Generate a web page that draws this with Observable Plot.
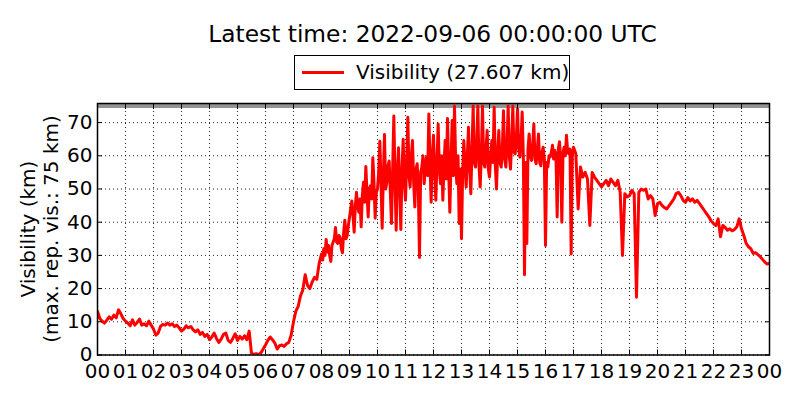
<!DOCTYPE html>
<html>
<head>
<meta charset="utf-8">
<script src="https://cdn.jsdelivr.net/npm/d3@7"></script>
<script src="https://cdn.jsdelivr.net/npm/@observablehq/plot@0.6"></script>
<style>
  html, body { margin: 0; padding: 0; background: #fff; }
  #wrap { position: relative; width: 800px; height: 400px; font-family: "DejaVu Sans", sans-serif; color: #000; overflow: hidden; }
  #title { position: absolute; left: 0; top: 22px; width: 865px; text-align: center; font-size: 23.3px; line-height: 23.3px; white-space: nowrap; }
  #legend { position: absolute; left: 294px; top: 55px; width: 274px; height: 33px; border: 1px solid #000; background: #fff; box-sizing: content-box; }
  #legend .swatch { position: absolute; left: 7px; top: 14.5px; width: 42px; height: 3px; background: #ff0000; }
  #legend .label { position: absolute; left: 61px; top: 5.5px; font-size: 20px; line-height: 20px; white-space: nowrap; }
  #ylabel { position: absolute; left: 38.75px; top: 228.5px; transform: translate(-50%, -50%) rotate(-90deg); font-size: 20px; line-height: 22.5px; text-align: center; white-space: nowrap; }
  #chart { position: absolute; left: 0; top: 0; }
</style>
</head>
<body>
<div id="wrap">
  <div id="chart"></div>
  <div id="title"></div>
  <div id="legend"><div class="swatch"></div><div class="label"></div></div>
  <div id="ylabel"></div>
</div>
<script>
// ---- data ----
const titleText = "Latest time: 2022-09-06 00:00:00 UTC";
const seriesName = "Visibility";
const latestValue = "27.607";
const yLabelLines = ["Visibility (km)", "(max. rep. vis.: 75 km)"];
const maxRepVis = 75;

// visibility (km) 00:00-07:55, one value every 5 minutes
const visNightStart = 0, visNightStep = 5;
const visNight = [
  13.2, 11.0, 10.2, 9.6, 10.5, 11.5, 10.8, 12.0, 11.2, 13.6, 12.4, 11.0,
  10.2, 9.6, 8.8, 10.6, 9.0, 9.8, 10.8, 9.0, 9.4, 8.8, 10.2, 9.0,
  7.8, 6.0, 6.6, 8.6, 9.2, 9.0, 9.6, 9.0, 9.4, 8.6, 9.0, 8.2,
  7.2, 7.8, 8.8, 8.2, 8.6, 7.6, 7.0, 7.6, 6.2, 6.8, 5.6, 6.2,
  4.6, 5.4, 6.6, 5.0, 3.8, 4.8, 6.2, 6.6, 4.4, 3.8, 5.0, 6.4,
  4.4, 5.6, 4.8, 5.8, 4.6, 7.2, 0.5, 0.2, 0.4, 0.1, 0.6, 1.8,
  3.0, 4.4, 5.4, 4.6, 3.6, 1.8, 2.8, 3.0, 2.6, 3.4, 3.8, 6.0,
  10.0, 13.2, 14.6, 17.8, 19.6, 24.2, 21.0, 20.0, 22.0, 23.4, 22.8, 27.6
];

// visibility (km) 08:00-16:57.5, one value every 2.5 minutes
const visDayStart = 480, visDayStep = 2.5;
const visDay = [
  30.4, 28.6, 32.0, 30.0, 34.8, 31.0, 33.0, 30.0, 28.2, 33.0, 34.0, 35.0,
  38.4, 34.0, 33.6, 36.0, 35.4, 32.0, 30.8, 37.0, 40.6, 35.0, 36.0, 39.0,
  41.4, 44.0, 46.4, 42.0, 37.0, 45.0, 49.0, 44.6, 43.0, 47.0, 38.6, 48.0,
  52.0, 46.0, 56.8, 49.0, 41.6, 50.0, 51.0, 47.0, 59.4, 52.0, 41.2, 49.0,
  50.0, 55.0, 64.4, 52.0, 38.2, 54.0, 66.4, 50.0, 52.0, 57.0, 58.4, 49.0,
  39.6, 56.0, 72.0, 53.0, 37.6, 55.0, 62.4, 50.0, 37.8, 56.0, 65.0, 52.0,
  46.6, 58.0, 71.6, 54.0, 50.6, 60.0, 64.6, 52.0, 44.6, 56.0, 57.6, 50.0,
  29.4, 55.0, 56.6, 60.0, 51.6, 57.0, 59.6, 54.0, 72.6, 58.0, 46.0, 60.0,
  66.2, 55.0, 46.6, 58.0, 69.6, 56.0, 51.6, 60.0, 46.6, 57.0, 64.6, 53.0,
  71.2, 56.0, 43.0, 58.0, 70.6, 54.0, 75.0, 58.0, 51.6, 60.0, 39.6, 56.0,
  35.0, 55.0, 64.6, 57.0, 50.6, 60.0, 68.6, 56.0, 48.6, 62.0, 75.0, 58.0,
  56.6, 63.0, 75.0, 57.0, 50.6, 60.0, 75.0, 58.0, 56.6, 62.0, 67.6, 56.0,
  53.6, 60.0, 64.6, 58.0, 74.6, 57.0, 50.0, 61.0, 67.6, 58.0, 56.6, 62.0,
  73.6, 59.0, 56.6, 63.0, 75.0, 60.0, 56.0, 64.0, 75.0, 61.0, 60.6, 65.0,
  74.2, 62.0, 59.6, 64.0, 73.2, 60.0, 24.2, 58.0, 33.6, 62.0, 66.6, 60.0,
  58.6, 63.0, 69.6, 59.0, 57.6, 62.0, 66.6, 58.0, 57.0, 61.0, 62.6, 59.0,
  33.0, 58.0, 56.6, 60.0, 59.6, 61.0, 63.2, 59.0, 61.6, 60.0, 41.6, 62.0,
  64.2, 59.0, 40.0, 61.0, 62.6, 60.0, 66.2, 61.0, 60.6, 62.0, 30.4, 60.0
];

// visibility (km) 17:00-24:00, one value every 5 minutes
const visEveningStart = 1020, visEveningStep = 5;
const visEvening = [
  62.6, 60.6, 44.0, 56.6, 53.6, 55.0, 53.0, 39.0, 55.0, 53.6, 52.6, 51.6,
  50.6, 51.6, 52.6, 51.0, 53.0, 52.0, 51.0, 52.6, 49.0, 30.0, 48.6, 47.6,
  48.0, 49.6, 48.6, 17.4, 49.0, 50.0, 49.6, 50.0, 47.0, 48.0, 47.0, 42.0,
  45.6, 46.0, 45.0, 44.4, 44.0, 45.0, 46.0, 47.0, 48.6, 49.0, 48.0, 46.6,
  46.0, 47.4, 46.4, 47.0, 46.0, 46.6, 45.6, 44.6, 43.6, 42.6, 41.6, 40.4,
  39.6, 39.0, 41.0, 35.6, 39.0, 38.4, 37.6, 38.0, 37.4, 37.8, 38.6, 41.0,
  38.0, 36.0, 33.6, 32.6, 32.0, 30.6, 30.8, 30.2, 29.6, 28.8, 28.0, 27.4,
  27.607
];

const hourTicks = [0,1,2,3,4,5,6,7,8,9,10,11,12,13,14,15,16,17,18,19,20,21,22,23,24];
const hourLabels = ["00","01","02","03","04","05","06","07","08","09","10","11",
                    "12","13","14","15","16","17","18","19","20","21","22","23","00"];
const yTicks = [0, 10, 20, 30, 40, 50, 60, 70];

// ---- build ----
const toRows = (values, startMin, stepMin) =>
  values.map((v, i) => ({hour: (startMin + i * stepMin) / 60, vis: v}));
const data = [
  ...toRows(visNight, visNightStart, visNightStep),
  ...toRows(visDay, visDayStart, visDayStep),
  ...toRows(visEvening, visEveningStart, visEveningStep)
];

document.getElementById("title").textContent = titleText;
document.querySelector("#legend .label").textContent = `${seriesName} (${latestValue} km)`;
document.getElementById("ylabel").innerHTML = yLabelLines.join("<br>");

const gridStyle = {stroke: "#000", strokeOpacity: 0.85, strokeWidth: 1, strokeDasharray: "1,3"};

const chart = Plot.plot({
  width: 800,
  height: 400,
  marginLeft: 97,
  marginRight: 31,
  marginTop: 103,
  marginBottom: 45.5,
  style: {fontFamily: "DejaVu Sans", fontSize: "20px", color: "#000", background: "transparent", overflow: "visible"},
  x: {domain: [0, 24], ticks: hourTicks},
  y: {domain: [0, 75.75], ticks: yTicks},
  marks: [
    Plot.gridX(hourTicks, gridStyle),
    Plot.gridY(yTicks, gridStyle),
    Plot.ruleY([maxRepVis], {stroke: "#808080", strokeWidth: 4, strokeOpacity: 0.85}),
    Plot.line(data, {x: "hour", y: "vis", stroke: "#ff0000", strokeWidth: 3, strokeLinejoin: "round", strokeLinecap: "round", clip: true}),
    Plot.axisX(hourTicks, {anchor: "bottom", tickSize: 0, tickPadding: 8.5, tickFormat: d => hourLabels[d], label: null}),
    Plot.axisY(yTicks, {anchor: "left", tickSize: 0, tickPadding: 5, label: null}),
    Plot.axisX(hourTicks, {anchor: "bottom", tickSize: -5, tickFormat: () => "", label: null}),
    Plot.axisX(hourTicks, {anchor: "top", tickSize: -5, tickFormat: () => "", label: null}),
    Plot.axisY(yTicks, {anchor: "left", tickSize: -5, tickFormat: () => "", label: null}),
    Plot.axisY(yTicks, {anchor: "right", tickSize: -5, tickFormat: () => "", label: null}),
    Plot.frame({stroke: "#000", strokeWidth: 1.5})
  ]
});
document.getElementById("chart").appendChild(chart);
</script>
</body>
</html>
